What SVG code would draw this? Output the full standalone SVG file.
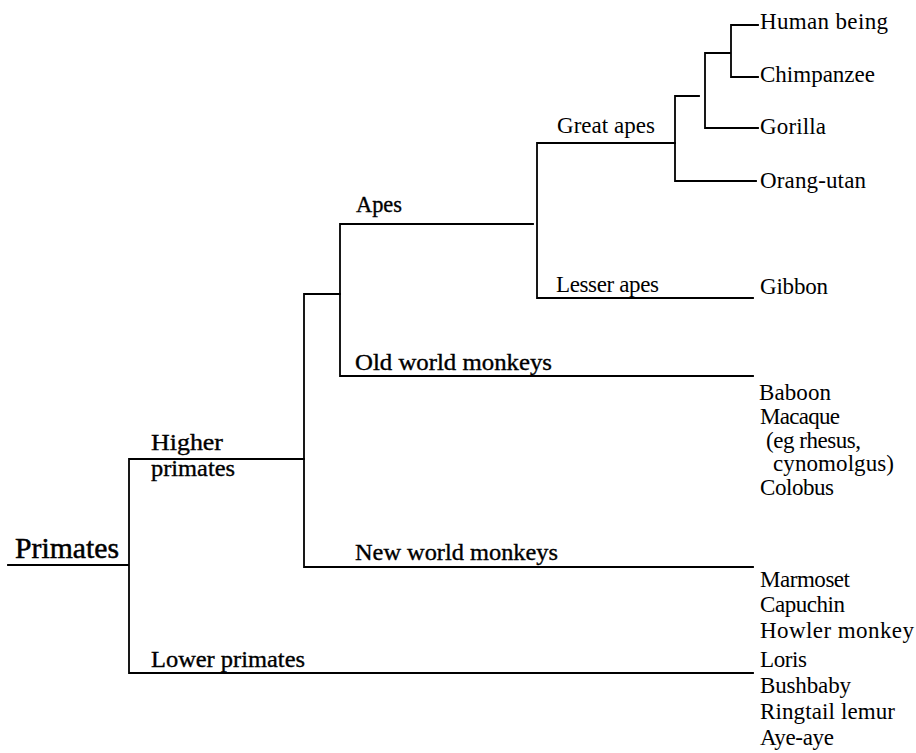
<svg xmlns="http://www.w3.org/2000/svg" width="916" height="753" viewBox="0 0 916 753">
<style>
  .ln { stroke: #000; stroke-width: 1.8; fill: none; stroke-linecap: square; }
  text { font-family: "Liberation Serif", "Times New Roman", serif; fill: #000; }
  .leaf { font-size: 23px; }
  .lab { font-size: 23px; stroke: #000; stroke-width: 0.35; }
  .big { font-size: 29px; stroke: #000; stroke-width: 0.5; }
</style>
<rect width="916" height="753" fill="#fff"/>
<g id="connectors">
  <path class="ln" d="M8 565 H129 M129 459 V673 M129 459 H304 M129 673 H753"/>
  <path class="ln" d="M304 294 V567 M304 294 H340 M304 567 H753"/>
  <path class="ln" d="M340 224 V376 M340 224 H533 M340 376 H753"/>
  <path class="ln" d="M537 143 V298 M537 143 H675 M537 298 H753"/>
  <path class="ln" d="M675 96 V181 M675 96 H699 M675 181 H756"/>
  <path class="ln" d="M705 53 V128 M705 53 H730 M705 128 H758"/>
  <path class="ln" d="M731 25 V77 M731 25 H758 M731 77 H758"/>
</g>
<g id="primates"><text class="big" x="15" y="558" textLength="104" lengthAdjust="spacingAndGlyphs">Primates</text></g>
<g id="higher-primates"><text class="lab" x="151" y="450" textLength="72" lengthAdjust="spacingAndGlyphs">Higher</text><text class="lab" x="151" y="476" textLength="84" lengthAdjust="spacingAndGlyphs">primates</text></g>
<g id="lower-primates"><text class="lab" x="151" y="667" textLength="154" lengthAdjust="spacingAndGlyphs">Lower primates</text></g>
<g id="apes"><text class="lab" x="356" y="212" textLength="46" lengthAdjust="spacingAndGlyphs">Apes</text></g>
<g id="old-world-monkeys"><text class="lab" x="355" y="370" textLength="197" lengthAdjust="spacingAndGlyphs">Old world monkeys</text></g>
<g id="new-world-monkeys"><text class="lab" x="355" y="560" textLength="203" lengthAdjust="spacingAndGlyphs">New world monkeys</text></g>
<g id="great-apes"><text class="leaf" x="557" y="133" textLength="98">Great apes</text></g>
<g id="lesser-apes"><text class="leaf" x="556" y="292" textLength="103">Lesser apes</text></g>
<g id="human"><text class="leaf" x="760" y="29" textLength="128">Human being</text></g>
<g id="chimpanzee"><text class="leaf" x="760" y="82" textLength="115">Chimpanzee</text></g>
<g id="gorilla"><text class="leaf" x="760" y="134" textLength="66">Gorilla</text></g>
<g id="orang-utan"><text class="leaf" x="760" y="188" textLength="106">Orang-utan</text></g>
<g id="gibbon"><text class="leaf" x="760" y="294" textLength="68">Gibbon</text></g>
<g id="old-world-species">
  <text class="leaf" x="759" y="400" textLength="72">Baboon</text>
  <text class="leaf" x="760" y="424" textLength="80">Macaque</text>
  <text class="leaf" x="766" y="448" textLength="95">(eg rhesus,</text>
  <text class="leaf" x="773" y="471" textLength="121">cynomolgus)</text>
  <text class="leaf" x="760" y="495" textLength="74">Colobus</text>
</g>
<g id="new-world-species">
  <text class="leaf" x="760" y="587" textLength="90">Marmoset</text>
  <text class="leaf" x="760" y="612" textLength="85">Capuchin</text>
  <text class="leaf" x="760" y="638" textLength="154">Howler monkey</text>
</g>
<g id="lower-species">
  <text class="leaf" x="760" y="667" textLength="47">Loris</text>
  <text class="leaf" x="760" y="693" textLength="91">Bushbaby</text>
  <text class="leaf" x="760" y="719" textLength="135">Ringtail lemur</text>
  <text class="leaf" x="760" y="745" textLength="74">Aye-aye</text>
</g>
</svg>
